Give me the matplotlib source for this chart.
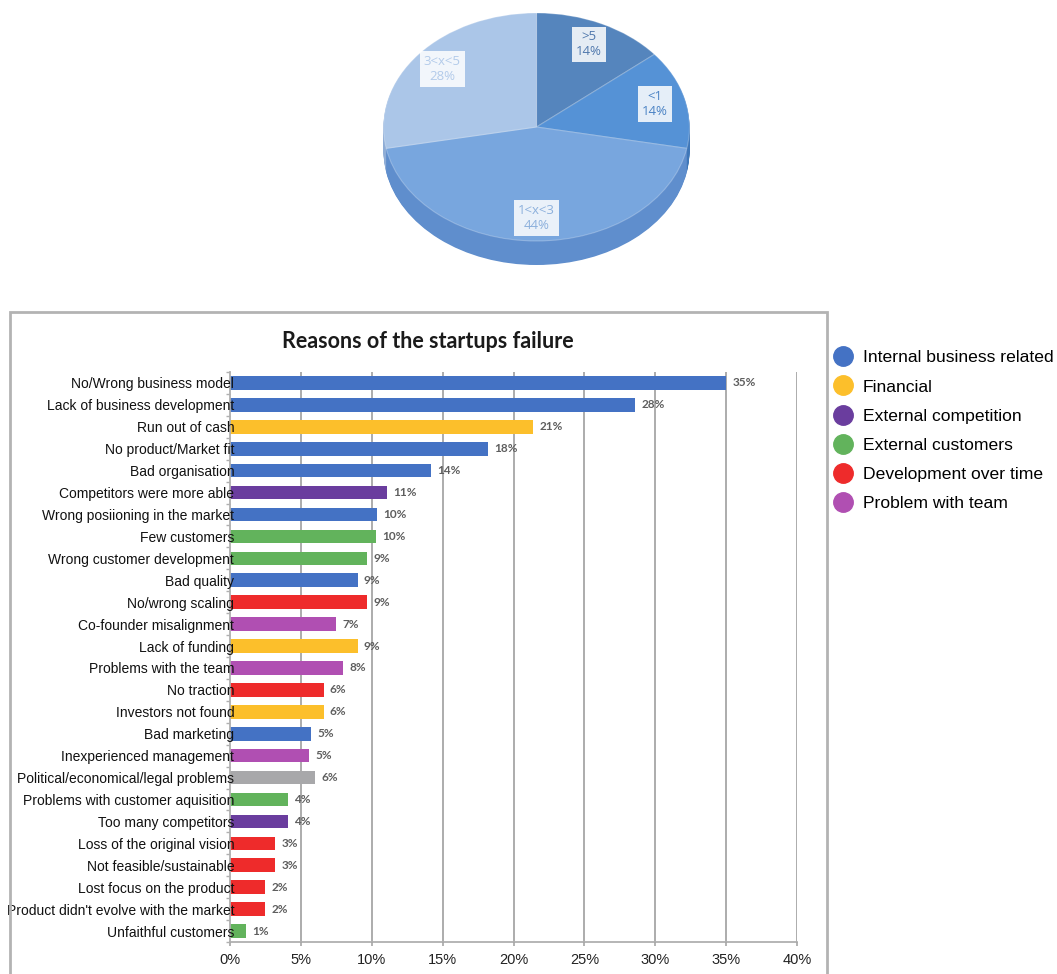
import matplotlib
matplotlib.use("Agg")
import matplotlib.pyplot as plt
from matplotlib.lines import Line2D
from matplotlib.patches import Rectangle
from matplotlib.ticker import MultipleLocator, FuncFormatter
import numpy as np

# ---------------- data ----------------
pie_labels = [">5", "<1", "1<x<3", "3<x<5"]
pie_values = [14, 14, 44, 28]

reasons = [
    "No/Wrong business model", "Lack of business development", "Run out of cash",
    "No product/Market fit", "Bad organisation", "Competitors were more able",
    "Wrong posiioning in the market", "Few customers", "Wrong customer development",
    "Bad quality", "No/wrong scaling", "Co-founder misalignment", "Lack of funding",
    "Problems with the team", "No traction", "Investors not found", "Bad marketing",
    "Inexperienced management", "Political/economical/legal problems",
    "Problems with customer aquisition", "Too many competitors",
    "Loss of the original vision", "Not feasible/sustainable",
    "Lost focus on the product", "Product didn't evolve with the market",
    "Unfaithful customers",
]
values = [35.0, 28.6, 21.4, 18.2, 14.2, 11.1, 10.4, 10.3, 9.7, 9.0, 9.7, 7.5, 9.0,
          8.0, 6.6, 6.6, 5.7, 5.6, 6.0, 4.1, 4.1, 3.2, 3.2, 2.5, 2.5, 1.1]
value_labels = ["35%", "28%", "21%", "18%", "14%", "11%", "10%", "10%", "9%", "9%",
                "9%", "7%", "9%", "8%", "6%", "6%", "5%", "5%", "6%", "4%", "4%",
                "3%", "3%", "2%", "2%", "1%"]
groups = ["int", "int", "fin", "int", "int", "comp", "int", "cust", "cust", "int",
          "dev", "team", "fin", "team", "dev", "fin", "int", "team", "other",
          "cust", "comp", "dev", "dev", "dev", "dev", "cust"]
legend_keys = ["int", "fin", "comp", "cust", "dev", "team"]
legend_names = ["Internal business related", "Financial", "External competition",
                "External customers", "Development over time", "Problem with team"]
x_ticks = [0, 5, 10, 15, 20, 25, 30, 35, 40]

# ---------------- styles ----------------
group_colors = {"int": "#4472c4", "fin": "#fcbf2b", "comp": "#6a3d9e",
                "cust": "#62b35c", "dev": "#ee2b2b", "team": "#b04fb2",
                "other": "#a8a8aa"}
pie_top = ["#5585bd", "#5592d6", "#78a6de", "#abc6e8"]
pie_side = ["#456f9f", "#3f77b8", "#5f8ecd", "#8fadd6"]
pie_text = ["#5078ad", "#4a82c4", "#8cb0dc", "#b3cbea"]

W, H = 1057, 974
fig = plt.figure(figsize=(W / 100, H / 100), dpi=100)

# ---------------- 3D-like pie ----------------
cx, cy, a, b = 536.5, 127, 153, 114
px0, px1, py0, py1 = 370, 710, 0, 282
axp = fig.add_axes([px0 / W, 1 - py1 / H, (px1 - px0) / W, (py1 - py0) / H])
depth = 24 / b
n_layers = 30
for i in range(n_layers, 0, -1):
    axp.pie(pie_values, colors=pie_side, startangle=90, counterclock=False,
            center=(0, -depth * i / n_layers), radius=1,
            wedgeprops=dict(edgecolor="none", linewidth=0))
wedges, texts = axp.pie(pie_values, labels=pie_labels, colors=pie_top,
                        startangle=90, counterclock=False, radius=1,
                        labeldistance=0.8,
                        wedgeprops=dict(edgecolor=(1, 1, 1, 0.25), linewidth=0.8))
for t, lab, v, c in zip(texts, pie_labels, pie_values, pie_text):
    t.set_text(f"{lab}\n{v}%")
    t.set_ha("center")
    t.set_va("center")
    t.set_color(c)
    t.set_fontsize(9.5)
    t.set_family("Open Sans")
    t.set_linespacing(1.2)
    t.set_bbox(dict(boxstyle="square,pad=0.3", facecolor="white", alpha=0.85,
                    edgecolor="none"))
axp.set_aspect("auto")
axp.set_xlim((px0 - cx) / a, (px1 - cx) / a)
axp.set_ylim((cy - py1) / b, (cy - py0) / b)
axp.axis("off")

# ---------------- frame around bar chart ----------------
fig.patches.append(Rectangle((10 / W, -0.02), (827 - 10) / W, 1 - 312 / H + 0.02,
                             transform=fig.transFigure, fill=False,
                             edgecolor="#b3b3b3", linewidth=2))

# ---------------- bar chart ----------------
bx0, bx1, by0, by1 = 230, 797, 372, 942
ax = fig.add_axes([bx0 / W, 1 - by1 / H, (bx1 - bx0) / W, (by1 - by0) / H])
y = np.arange(len(reasons))
for xt in x_ticks[1:]:
    ax.axvline(xt, color="#a6a6a6", linewidth=1.3, zorder=0)
bar_colors = [group_colors[g] for g in groups]
bars = ax.barh(y, values, height=0.62, color=bar_colors, zorder=1.5)
for bar, lab in zip(bars, value_labels):
    ax.annotate(lab, (bar.get_width(), bar.get_y() + bar.get_height() / 2),
                xytext=(4.5, 0), textcoords="offset points", ha="left", va="center",
                fontsize=8.5, color="#5e5e5e", fontweight="bold", family="Lato",
                zorder=4)
ax.set_ylim(len(reasons) - 0.5, -0.5)
ax.set_xlim(0, 40)
ax.set_xticks(x_ticks)
ax.xaxis.set_major_formatter(FuncFormatter(lambda v, p: f"{int(v)}%"))
ax.set_yticks(y)
ax.set_yticklabels(reasons, family="Liberation Sans", fontsize=10, color="#111111")
ax.yaxis.set_minor_locator(MultipleLocator(1, offset=0.5))
ax.tick_params(axis="y", which="major", length=0, pad=-3)
ax.tick_params(axis="y", which="minor", length=3, color="#b0b0b0", width=1)
ax.tick_params(axis="x", length=3, color="#a6a6a6", width=1.2, pad=5,
               labelsize=10.5, labelcolor="#222222")
for lab in ax.get_xticklabels():
    lab.set_family("Liberation Sans")
for s in ["top", "right"]:
    ax.spines[s].set_visible(False)
for s in ["left", "bottom"]:
    ax.spines[s].set_color("#b0b0b0")
    ax.spines[s].set_linewidth(1.3)
ax.set_axisbelow(False)

fig.text(428 / W, 1 - 341 / H, "Reasons of the startups failure", ha="center",
         va="center", fontsize=15.5, fontweight="bold", family="Lato",
         color="#1a1a1a")

# ---------------- legend ----------------
handles = [Line2D([], [], linestyle="none", marker="o", markersize=14,
                  markerfacecolor=group_colors[k], markeredgecolor=group_colors[k])
           for k in legend_keys]
leg = fig.legend(handles, legend_names, loc="upper left",
                 bbox_to_anchor=(834 / W, 1 - 350 / H), frameon=False,
                 borderpad=0, borderaxespad=0, handlelength=1.0,
                 handletextpad=0.65, labelspacing=0.8,
                 prop={"family": "Liberation Sans", "size": 12.6})

fig.savefig("out.png", dpi=100)
